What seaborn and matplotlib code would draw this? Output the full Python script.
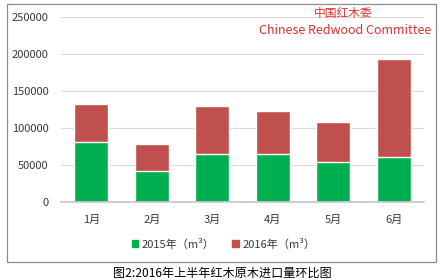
import matplotlib
matplotlib.use("Agg")
import matplotlib.pyplot as plt
import seaborn as sns
import pandas as pd
from matplotlib.patches import Rectangle, Patch

months = ["1月", "2月", "3月", "4月", "5月", "6月"]
v2015 = [81000, 42000, 65000, 65500, 54000, 61500]
v2016 = [51500, 36500, 65000, 57500, 55000, 131500]
yticks = [0, 50000, 100000, 150000, 200000, 250000]
labels = ["2015年（m³）", "2016年（m³）"]
title = "图2:2016年上半年红木原木进口量环比图"

sns.set_theme(style="white")
plt.rcParams['font.family'] = ['Noto Sans CJK SC', 'DejaVu Sans']

GREEN = "#00B050"
RED = "#C0504D"

df = pd.DataFrame({"month": months, "a": v2015,
                   "total": [a + b for a, b in zip(v2015, v2016)]})

fig = plt.figure(figsize=(4.47, 2.8), dpi=100)
fig.patch.set_facecolor("white")
# outer frame
fig.patches.append(Rectangle((7/447, 1 - 262/280), 429/447, 258/280,
                             transform=fig.transFigure, fill=False,
                             edgecolor="#8c8c8c", linewidth=0.9))

ax = fig.add_axes([61/447, 1 - 202.3/280, 363/447, 185/280])
sns.barplot(data=df, x="month", y="total", color=RED, saturation=1,
            width=0.56, ax=ax)
sns.barplot(data=df, x="month", y="a", color=GREEN, saturation=1,
            width=0.56, ax=ax)
ax.set_ylim(0, 250000)
ax.set_xlim(-0.5, 5.5)
ax.set_yticks(yticks)
ax.set_yticklabels([str(t) for t in yticks])
ax.grid(axis="y", color="#d9d9d9", linewidth=0.8)
ax.set_axisbelow(True)
for s in ["top", "right", "left"]:
    ax.spines[s].set_visible(False)
ax.spines["bottom"].set_color("#c8c8c8")
ax.set_xlabel("")
ax.set_ylabel("")
ax.tick_params(axis="both", length=0, labelsize=8, colors="#3a3a3a")
ax.tick_params(axis="y", pad=9)
ax.tick_params(axis="x", pad=9)

handles = [Patch(color=GREEN), Patch(color=RED)]
fig.legend(handles, labels, loc="center", bbox_to_anchor=(0.5, 1 - 244/280),
           ncol=2, frameon=False, fontsize=8, handlelength=0.6,
           handleheight=0.6, handletextpad=0.3, columnspacing=1.6,
           labelcolor="#3a3a3a")

fig.text(343/447, 1 - 14/280, "中国红木委", color="#d9342b", fontsize=8.5,
         ha="center", va="center")
fig.text(345/447, 1 - 30/280, "Chinese Redwood Committee", color="#d9342b",
         fontsize=9, ha="center", va="center")

fig.text(0.497, 1 - 273/280, title, color="black", fontsize=8.7,
         ha="center", va="center")

fig.savefig("out.png", dpi=100, facecolor="white")
